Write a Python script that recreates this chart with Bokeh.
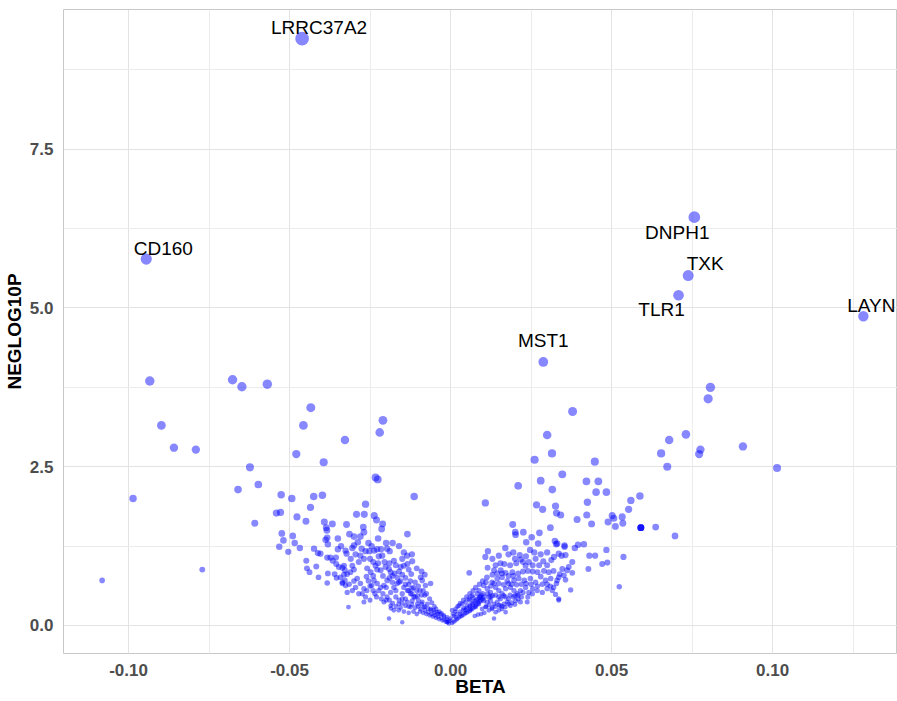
import math
from bokeh.plotting import figure
from bokeh.models import ColumnDataSource, Range1d, FixedTicker, NumeralTickFormatter
from bokeh.core.properties import value
from bokeh.embed import file_html
from bokeh.resources import INLINE

# ---------------- data: (BETA, NEGLOG10P) ----------------
LEFT_TAIL = [(-0.1082, 0.71), (-0.0986, 2.00), (-0.0934, 3.85), (-0.0898, 3.15), (-0.0859, 2.80),
             (-0.0791, 2.77), (-0.0771, 0.88), (-0.0677, 3.87), (-0.0648, 3.76), (-0.0569, 3.80),
             (-0.0660, 2.14), (-0.0623, 2.49), (-0.0597, 2.22), (-0.0608, 1.61), (-0.0479, 2.70),
             (-0.0526, 2.06), (-0.0493, 2.00), (-0.0541, 1.77), (-0.0528, 1.78), (-0.0477, 1.71),
             (-0.0524, 1.45), (-0.0490, 1.41), (-0.0519, 1.34), (-0.0484, 1.30), (-0.0532, 1.24),
             (-0.0504, 1.16), (-0.0468, 1.22), (-0.0434, 3.43), (-0.0457, 3.15), (-0.0210, 3.23),
             (-0.0220, 3.04), (-0.0328, 2.92), (-0.0394, 2.57), (-0.0233, 2.33), (-0.0226, 2.30),
             (-0.0113, 2.03), (-0.0425, 2.03), (-0.0398, 2.05), (-0.0264, 1.91), (-0.0435, 1.86)]

LEFT_OUTER = [(-0.0449, 1.64), (-0.0392, 1.63), (-0.0367, 1.60), (-0.0323, 1.59), (-0.0386, 1.54),
              (-0.0384, 1.50), (-0.0383, 1.38), (-0.0388, 1.35), (-0.0350, 1.37), (-0.0381, 1.28),
              (-0.0424, 1.21), (-0.0404, 1.13), (-0.0412, 1.14), (-0.0326, 1.18), (-0.0323, 1.13),
              (-0.0448, 1.02), (-0.0383, 1.07), (-0.0373, 1.07), (-0.0366, 1.02), (-0.0356, 1.07),
              (-0.0355, 0.97), (-0.0347, 0.92), (-0.0336, 0.91), (-0.0446, 0.90), (-0.0438, 0.84),
              (-0.0417, 0.93), (-0.0410, 0.76), (-0.0381, 0.82), (-0.0360, 0.81), (-0.0354, 0.75),
              (-0.0383, 0.67), (-0.0331, 0.80), (-0.0328, 0.71), (-0.0336, 0.66), (-0.0321, 0.52),
              (-0.0317, 0.29)]

LEFT_CLOUD = [(-0.0292, 1.75), (-0.0268, 1.75), (-0.0237, 1.73), (-0.0230, 1.66), (-0.0211, 1.60),
              (-0.0214, 1.52), (-0.0271, 1.55), (-0.0269, 1.47), (-0.0314, 1.44), (-0.0134, 1.44),
              (-0.0225, 1.37), (-0.0288, 1.31), (-0.0300, 1.26), (-0.0305, 1.22), (-0.0276, 1.21),
              (-0.0264, 1.17), (-0.0252, 1.17), (-0.0237, 1.18), (-0.0228, 1.20), (-0.0216, 1.20),
              (-0.0197, 1.21), (-0.0189, 1.17), (-0.0145, 1.15), (-0.0223, 1.09), (-0.0212, 1.10),
              (-0.0269, 1.05), (-0.0285, 1.00), (-0.0176, 1.02), (-0.0119, 1.01), (-0.0331, 0.94),
              (-0.0305, 0.94), (-0.0300, 0.88), (-0.0311, 0.84), (-0.0328, 0.87), (-0.0321, 0.81),
              (-0.0259, 0.90), (-0.0248, 0.84), (-0.0261, 0.77), (-0.0233, 0.94), (-0.0228, 0.88),
              (-0.0217, 0.87), (-0.0202, 0.92), (-0.0191, 0.89), (-0.0186, 0.84), (-0.0174, 0.82),
              (-0.0155, 0.92), (-0.0145, 0.94), (-0.0134, 0.97), (-0.0130, 0.88), (-0.0122, 0.81),
              (-0.0093, 0.76), (-0.0062, 0.66), (-0.0342, 0.76), (-0.0336, 0.68), (-0.0326, 0.63),
              (-0.0290, 0.74), (-0.0280, 0.66), (-0.0295, 0.60), (-0.0269, 0.58), (-0.0274, 0.50),
              (-0.0264, 0.45), (-0.0269, 0.37), (-0.0238, 0.71), (-0.0228, 0.66), (-0.0217, 0.60),
              (-0.0223, 0.55), (-0.0207, 0.63), (-0.0197, 0.71), (-0.0181, 0.68), (-0.0166, 0.66),
              (-0.0176, 0.60), (-0.0186, 0.52), (-0.0197, 0.45), (-0.0145, 0.60), (-0.0134, 0.55),
              (-0.0124, 0.50), (-0.0114, 0.45), (-0.0103, 0.47), (-0.0119, 0.39), (-0.0134, 0.37),
              (-0.0150, 0.42), (-0.0161, 0.34), (-0.0140, 0.31), (-0.0124, 0.29), (-0.0103, 0.34),
              (-0.0088, 0.37), (-0.0083, 0.29), (-0.0072, 0.34), (-0.0093, 0.26), (-0.0062, 0.26),
              (-0.0052, 0.24), (-0.0041, 0.21), (-0.0031, 0.18), (-0.0021, 0.16), (-0.0010, 0.13),
              (0.0000, 0.08), (-0.0191, 0.11), (-0.0150, 0.05), (-0.0207, 0.37), (-0.0186, 0.31),
              (-0.0176, 0.24), (-0.0161, 0.24), (-0.0078, 0.63), (-0.0088, 0.71)]

LEFT_ARM = [(-0.0190, 0.40), (-0.0180, 0.35), (-0.0170, 0.45), (-0.0160, 0.40), (-0.0150, 0.35),
            (-0.0140, 0.42), (-0.0130, 0.30), (-0.0120, 0.33), (-0.0110, 0.28), (-0.0100, 0.30),
            (-0.0095, 0.22), (-0.0085, 0.20), (-0.0080, 0.24), (-0.0075, 0.18), (-0.0070, 0.21),
            (-0.0065, 0.16), (-0.0060, 0.18), (-0.0055, 0.14), (-0.0050, 0.16), (-0.0045, 0.12),
            (-0.0040, 0.14), (-0.0035, 0.10), (-0.0030, 0.12), (-0.0025, 0.08), (-0.0020, 0.09),
            (-0.0015, 0.06), (-0.0010, 0.05), (-0.0005, 0.03), (-0.0110, 0.45), (-0.0100, 0.40),
            (-0.0090, 0.34), (-0.0080, 0.30), (-0.0070, 0.27), (-0.0060, 0.24), (-0.0050, 0.20),
            (-0.0040, 0.18), (-0.0120, 0.50), (-0.0130, 0.55), (-0.0150, 0.50), (-0.0170, 0.55),
            (-0.0200, 0.60), (-0.0210, 0.50), (-0.0230, 0.45), (-0.0240, 0.55), (-0.0250, 0.62),
            (-0.0160, 0.68), (-0.0140, 0.65), (-0.0115, 0.60), (-0.0095, 0.55), (-0.0080, 0.48)]

LEFT_FILL = [(-0.0310, 1.05), (-0.0295, 1.12), (-0.0280, 1.10), (-0.0250, 1.05), (-0.0240, 1.00),
             (-0.0225, 0.98), (-0.0205, 1.00), (-0.0190, 0.98), (-0.0170, 0.95), (-0.0160, 0.85),
             (-0.0150, 0.80), (-0.0140, 0.75), (-0.0125, 0.70), (-0.0110, 0.68), (-0.0100, 0.62),
             (-0.0085, 0.55), (-0.0075, 0.50), (-0.0065, 0.42), (-0.0058, 0.36), (-0.0050, 0.30),
             (-0.0045, 0.26), (-0.0035, 0.22), (-0.0028, 0.19), (-0.0020, 0.14), (-0.0012, 0.10),
             (-0.0006, 0.07), (-0.0240, 0.78), (-0.0255, 0.70), (-0.0245, 0.63), (-0.0210, 0.78),
             (-0.0190, 0.75), (-0.0180, 0.78), (-0.0165, 0.75), (-0.0155, 0.70), (-0.0130, 0.64),
             (-0.0120, 0.58), (-0.0105, 0.55), (-0.0090, 0.48), (-0.0300, 0.70), (-0.0315, 0.65),
             (-0.0305, 0.55), (-0.0285, 0.50), (-0.0260, 0.55), (-0.0250, 0.40), (-0.0235, 0.50),
             (-0.0215, 0.42), (-0.0200, 0.40), (-0.0185, 0.27), (-0.0170, 0.30), (-0.0155, 0.28),
             (-0.0145, 0.22), (-0.0130, 0.20), (-0.0115, 0.22), (-0.0105, 0.18), (-0.0350, 1.20),
             (-0.0340, 1.25), (-0.0300, 1.40), (-0.0280, 1.40), (-0.0255, 1.30), (-0.0245, 1.25),
             (-0.0200, 1.30), (-0.0180, 1.30), (-0.0160, 1.25), (-0.0150, 1.05), (-0.0135, 1.10),
             (-0.0120, 1.12), (-0.0105, 0.90), (-0.0090, 0.85), (-0.0080, 0.80)]

RIGHT_CLOUD = [(0.0210, 2.20), (0.0280, 2.28), (0.0316, 2.14), (0.0347, 2.38), (0.0108, 1.93),
               (0.0267, 1.90), (0.0286, 1.83), (0.0326, 1.88), (0.0329, 1.77), (0.0342, 1.74),
               (0.0193, 1.59), (0.0201, 1.47), (0.0202, 1.43), (0.0226, 1.47), (0.0276, 1.46),
               (0.0310, 1.54), (0.0235, 1.31), (0.0252, 1.39), (0.0272, 1.29), (0.0324, 1.33),
               (0.0328, 1.28), (0.0354, 1.26), (0.0170, 1.22), (0.0247, 1.19), (0.0116, 1.17),
               (0.0108, 1.08), (0.0215, 1.11), (0.0234, 1.09), (0.0218, 1.04), (0.0264, 1.05),
               (0.0288, 1.01), (0.0313, 1.03), (0.0321, 1.08), (0.0167, 0.97), (0.0204, 0.98),
               (0.0233, 0.94), (0.0243, 1.00), (0.0115, 0.91), (0.0135, 0.87), (0.0156, 0.87),
               (0.0171, 0.83), (0.0192, 0.84), (0.0058, 0.83), (0.0113, 0.76), (0.0129, 0.68),
               (0.0145, 0.74), (0.0160, 0.76), (0.0176, 0.70), (0.0197, 0.71), (0.0212, 0.74),
               (0.0229, 0.71), (0.0248, 0.74), (0.0264, 0.68), (0.0280, 0.77), (0.0295, 0.71),
               (0.0311, 0.74), (0.0329, 0.66), (0.0336, 0.76), (0.0078, 0.60), (0.0088, 0.55),
               (0.0103, 0.63), (0.0114, 0.58), (0.0124, 0.52), (0.0140, 0.60), (0.0150, 0.55),
               (0.0160, 0.50), (0.0171, 0.58), (0.0186, 0.60), (0.0197, 0.55), (0.0207, 0.50),
               (0.0217, 0.55), (0.0233, 0.60), (0.0243, 0.52), (0.0254, 0.50), (0.0269, 0.55),
               (0.0285, 0.52), (0.0300, 0.58), (0.0316, 0.55), (0.0326, 0.49), (0.0238, 0.37),
               (0.0217, 0.37), (0.0202, 0.39), (0.0336, 0.42), (0.0135, 0.11), (0.0005, 0.24),
               (0.0016, 0.26), (0.0026, 0.31), (0.0036, 0.34), (0.0047, 0.37), (0.0057, 0.42),
               (0.0067, 0.47), (0.0083, 0.50), (0.0093, 0.45), (0.0103, 0.39), (0.0114, 0.37),
               (0.0124, 0.39), (0.0135, 0.34), (0.0145, 0.37), (0.0155, 0.31), (0.0166, 0.34),
               (0.0176, 0.37), (0.0186, 0.31), (0.0047, 0.24), (0.0062, 0.26), (0.0078, 0.29),
               (0.0088, 0.34), (0.0098, 0.26), (0.0109, 0.29), (0.0119, 0.24), (0.0129, 0.26),
               (0.0140, 0.21), (0.0150, 0.24), (0.0160, 0.26), (0.0171, 0.21), (0.0031, 0.18),
               (0.0016, 0.13), (0.0000, 0.11), (-0.0010, 0.05)]

RIGHT_ARM = [(0.0005, 0.04), (0.0010, 0.06), (0.0015, 0.08), (0.0020, 0.10), (0.0025, 0.12),
             (0.0030, 0.14), (0.0035, 0.15), (0.0040, 0.17), (0.0045, 0.19), (0.0050, 0.20),
             (0.0055, 0.22), (0.0060, 0.23), (0.0065, 0.25), (0.0070, 0.27), (0.0075, 0.30),
             (0.0080, 0.32), (0.0085, 0.35), (0.0090, 0.38), (0.0095, 0.40), (0.0100, 0.42),
             (0.0040, 0.27), (0.0050, 0.30), (0.0060, 0.32), (0.0070, 0.36), (0.0080, 0.40),
             (0.0090, 0.45), (0.0100, 0.50), (0.0105, 0.20), (0.0095, 0.18), (0.0085, 0.17),
             (0.0075, 0.15), (0.0110, 0.30), (0.0120, 0.32), (0.0130, 0.28), (0.0140, 0.30),
             (0.0150, 0.32), (0.0160, 0.30), (0.0170, 0.29), (0.0180, 0.34), (0.0190, 0.36),
             (0.0200, 0.33), (0.0210, 0.42), (0.0220, 0.45), (0.0120, 0.45), (0.0130, 0.47),
             (0.0150, 0.45), (0.0165, 0.47), (0.0185, 0.48), (0.0200, 0.47), (0.0070, 0.44),
             (0.0060, 0.40)]

RIGHT_FILL = [(0.0010, 0.15), (0.0020, 0.18), (0.0030, 0.22), (0.0040, 0.24), (0.0050, 0.27),
              (0.0060, 0.30), (0.0068, 0.33), (0.0075, 0.38), (0.0085, 0.42), (0.0095, 0.48),
              (0.0105, 0.45), (0.0115, 0.50), (0.0125, 0.45), (0.0140, 0.48), (0.0155, 0.42),
              (0.0170, 0.45), (0.0180, 0.42), (0.0195, 0.45), (0.0210, 0.48), (0.0225, 0.52),
              (0.0240, 0.45), (0.0255, 0.58), (0.0270, 0.62), (0.0285, 0.65), (0.0300, 0.65),
              (0.0310, 0.62), (0.0320, 0.60), (0.0090, 0.65), (0.0100, 0.70), (0.0110, 0.68),
              (0.0125, 0.62), (0.0135, 0.66), (0.0150, 0.66), (0.0165, 0.64), (0.0180, 0.66),
              (0.0190, 0.65), (0.0205, 0.64), (0.0220, 0.65), (0.0235, 0.66), (0.0250, 0.65),
              (0.0130, 0.80), (0.0145, 0.82), (0.0160, 0.82), (0.0180, 0.78), (0.0195, 0.78),
              (0.0210, 0.82), (0.0225, 0.85), (0.0240, 0.86), (0.0255, 0.85), (0.0270, 0.84),
              (0.0290, 0.86), (0.0305, 0.84), (0.0320, 0.86), (0.0140, 0.95), (0.0155, 0.98),
              (0.0185, 0.95), (0.0200, 1.05), (0.0225, 1.00), (0.0255, 0.95), (0.0275, 0.95),
              (0.0300, 0.95), (0.0180, 1.12), (0.0195, 1.15), (0.0260, 1.15), (0.0280, 1.12),
              (0.0300, 1.15), (0.0150, 1.10), (0.0130, 1.05), (0.0070, 0.55), (0.0060, 0.50),
              (0.0050, 0.45), (0.0040, 0.40), (0.0030, 0.35), (0.0022, 0.30), (0.0015, 0.22),
              (0.0008, 0.18)]

RIGHT_OUTER = [(0.0448, 2.58), (0.0422, 2.27), (0.0459, 2.27), (0.0452, 2.10), (0.0484, 2.10),
               (0.0425, 1.94), (0.0560, 1.97), (0.0588, 2.04), (0.0553, 1.83), (0.0423, 1.74),
               (0.0393, 1.67), (0.0438, 1.60), (0.0502, 1.73), (0.0507, 1.69), (0.0533, 1.71),
               (0.0489, 1.63), (0.0512, 1.56), (0.0535, 1.61), (0.0591, 1.54), (0.0591, 1.54),
               (0.0591, 1.54), (0.0591, 1.54), (0.0637, 1.55), (0.0697, 1.41), (0.0354, 1.24),
               (0.0386, 1.22), (0.0396, 1.27), (0.0414, 1.28), (0.0336, 1.13), (0.0345, 1.10),
               (0.0357, 1.11), (0.0331, 1.29), (0.0431, 1.10), (0.0449, 1.10), (0.0484, 1.19),
               (0.0537, 1.08), (0.0471, 0.97), (0.0487, 0.99), (0.0378, 1.00), (0.0367, 0.92),
               (0.0347, 0.89), (0.0362, 0.87), (0.0378, 0.83), (0.0339, 0.81), (0.0352, 0.79),
               (0.0331, 0.71), (0.0357, 0.72), (0.0373, 0.56), (0.0336, 0.40), (0.0428, 0.89),
               (0.0524, 0.61)]

RIGHT_TAIL = [(0.0379, 3.37), (0.0300, 3.00), (0.0315, 2.71), (0.0261, 2.61), (0.0807, 3.75),
              (0.0800, 3.57), (0.0731, 3.01), (0.0679, 2.92), (0.0654, 2.71), (0.0776, 2.77),
              (0.0772, 2.70), (0.0908, 2.82), (0.0673, 2.50), (0.1014, 2.48)]

GENES = ["LRRC37A2", "CD160", "DNPH1", "TXK", "TLR1", "LAYN", "MST1"]
GENE_BETA = [-0.0461, -0.0945, 0.0757, 0.0738, 0.0708, 0.1282, 0.0288]
GENE_NEGLOG10P = [9.24, 5.77, 6.43, 5.51, 5.20, 4.87, 4.15]

# label placement (screen pixel offsets, style only)
LABEL_OFFSET = {"LRRC37A2": (17, -11), "CD160": (17, -11), "DNPH1": (-17, 15),
                "TXK": (17, -12), "TLR1": (-17, 14), "LAYN": (8, -11), "MST1": (0, -21)}

# ---------------- build ----------------
pts = (LEFT_TAIL + LEFT_OUTER + LEFT_CLOUD + LEFT_ARM + LEFT_FILL +
       RIGHT_CLOUD + RIGHT_ARM + RIGHT_FILL + RIGHT_OUTER + RIGHT_TAIL)
bx = [b for b, _ in pts] + GENE_BETA
by = [v for _, v in pts] + GENE_NEGLOG10P
sizes = [4.3 * math.sqrt(1.0 + v) for v in by]
src = ColumnDataSource(dict(x=bx, y=by, s=sizes))

lsrc = ColumnDataSource(dict(x=GENE_BETA, y=GENE_NEGLOG10P, t=GENES,
                             dx=[LABEL_OFFSET[g][0] for g in GENES],
                             dy=[LABEL_OFFSET[g][1] for g in GENES]))

FONT = "Liberation Sans"
p = figure(width=897, height=701, output_backend="svg", toolbar_location=None,
           x_range=Range1d(-0.1202, 0.1388), y_range=Range1d(-0.441, 9.70),
           min_border_left=63, min_border_right=0, min_border_top=9, min_border_bottom=48)
p.background_fill_color = "white"
p.border_fill_color = "white"
p.outline_line_color = "#c8c8c8"
p.outline_line_width = 1

p.scatter("x", "y", size="s", source=src, fill_color="#0000ff", fill_alpha=0.47, line_color=None)
p.text("x", "y", text="t", x_offset="dx", y_offset="dy", source=lsrc,
       text_align="center", text_baseline="middle", text_font=value(FONT),
       text_font_size="19px", text_color="black")

p.xaxis.ticker = FixedTicker(ticks=[-0.1, -0.05, 0.0, 0.05, 0.1],
                             minor_ticks=[-0.075, -0.025, 0.025, 0.075, 0.125])
p.yaxis.ticker = FixedTicker(ticks=[0.0, 2.5, 5.0, 7.5], minor_ticks=[1.25, 3.75, 6.25, 8.75])
p.xaxis.formatter = NumeralTickFormatter(format="0.00")
p.yaxis.formatter = NumeralTickFormatter(format="0.0")
p.xaxis.axis_label = "BETA"
p.yaxis.axis_label = "NEGLOG10P"

for ax in (p.xaxis, p.yaxis):
    ax.axis_line_color = None
    ax.major_tick_line_color = None
    ax.minor_tick_line_color = None
    ax.major_tick_out = 0
    ax.major_tick_in = 0
    ax.major_label_text_font = FONT
    ax.major_label_text_font_size = "17px"
    ax.major_label_text_font_style = "bold"
    ax.major_label_text_color = "#4d4d4d"
    ax.axis_label_text_font = FONT
    ax.axis_label_text_font_size = "19px"
    ax.axis_label_text_font_style = "bold"
    ax.axis_label_text_color = "black"
p.xaxis.major_label_standoff = 6
p.xaxis.axis_label_standoff = -3
p.yaxis.major_label_standoff = 6
p.yaxis.axis_label_standoff = 2

for g in (p.xgrid, p.ygrid):
    g.grid_line_color = "#e3e3e3"
    g.grid_line_width = 1
    g.minor_grid_line_color = "#ececec"
    g.minor_grid_line_width = 1

open("out.html", "w").write(file_html(p, INLINE))
